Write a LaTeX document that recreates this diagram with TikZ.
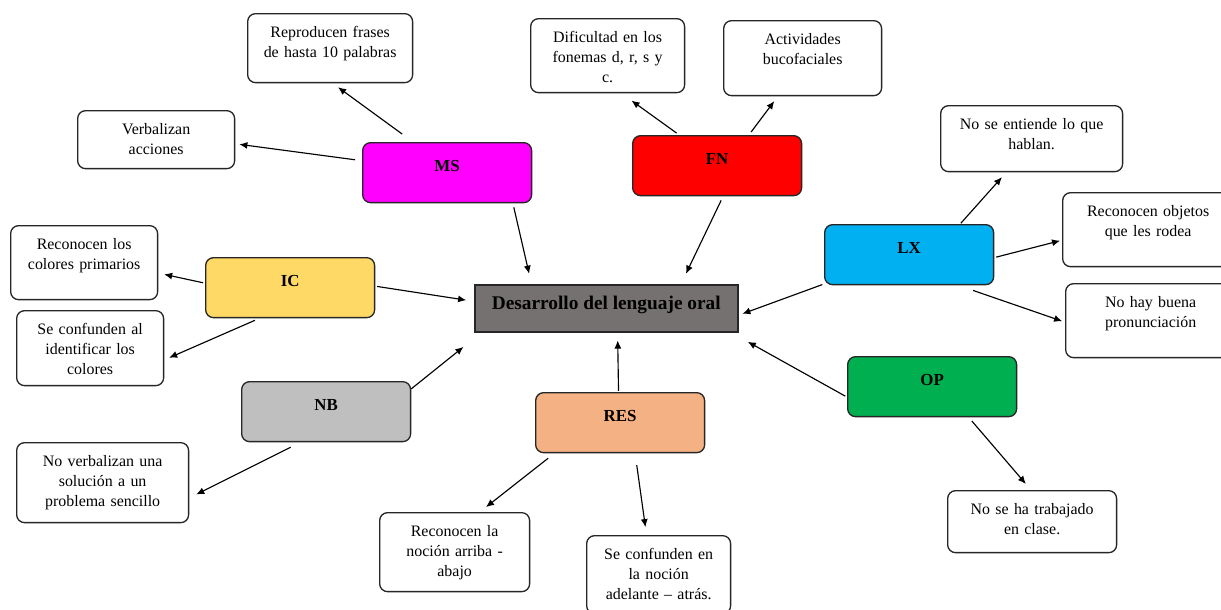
\documentclass[tikz,border=0pt]{standalone}
\usepackage{fontspec}
\setmainfont{Liberation Serif}
\usetikzlibrary{arrows.meta}

\definecolor{msmag}{RGB}{255,0,255}
\definecolor{fnred}{RGB}{255,0,0}
\definecolor{lxblue}{RGB}{0,176,240}
\definecolor{icyel}{RGB}{255,217,102}
\definecolor{nbgray}{RGB}{191,191,191}
\definecolor{opgreen}{RGB}{0,176,80}
\definecolor{resorange}{RGB}{244,177,131}
\definecolor{maingray}{RGB}{118,113,113}

\tikzset{
  concept/.style={draw=black!85, line width=0.75pt, rounded corners=4.5pt, inner sep=0pt,
    minimum width=3.38cm, text height=0.58cm, text depth=0.62cm, anchor=north west,
    font=\bfseries\fontsize{9.6}{11}\selectfont},
  idea/.style={draw=black!85, line width=0.75pt, rounded corners=4.5pt, inner sep=0pt,
    align=center, text height=0.48cm, text depth=#1, anchor=north west,
    font=\fontsize{9.07}{11.34}\selectfont},
  arr/.style={-{Latex[length=4.6pt,width=4pt]}, line width=0.65pt}
}

\begin{document}
\begin{tikzpicture}[x=0.02cm, y=-0.02cm]
  \useasboundingbox (0,0) rectangle (1221,609);

  % centre
  \node [draw=black!85, line width=0.9pt, fill=maingray, inner sep=0pt, anchor=north west,
         minimum width=5.26cm, text height=0.49cm, text depth=0.45cm,
         font=\bfseries\fontsize{11}{13}\selectfont] (desarrollo) at (474,284) {Desarrollo del lenguaje oral};

  % dimensions
  \node [concept, fill=msmag] (ms) at (362,142) {MS};
  \node [concept, fill=fnred] (fn) at (632,135) {FN};
  \node [concept, fill=lxblue] (lx) at (824,224) {LX};
  \node [concept, fill=icyel] (ic) at (205,257) {IC};
  \node [concept, fill=nbgray] (nb) at (241,381) {NB};
  \node [concept, fill=opgreen] (op) at (847,356) {OP};
  \node [concept, fill=resorange] (res) at (535,392) {RES};

  % observations
  \node [idea=0.90cm, text width=3.30cm] (repro) at (247,13) {Reproducen frases\\de hasta 10 palabras};
  \node [idea=1.00cm, text width=3.08cm] (dific) at (530,18) {Dificultad en los\\fonemas d, r, s y\\c.};
  \node [idea=1.02cm, text width=3.16cm] (activ) at (723,20) {Actividades\\bucofaciales};
  \node [idea=0.68cm, text width=3.14cm] (verb) at (77,110) {Verbalizan\\acciones};
  \node [idea=0.84cm, text width=3.64cm] (entiende) at (940,105) {No se entiende lo que\\hablan.};
  \node [idea=1.00cm, text width=3.42cm] (objetos) at (1062,192) {Reconocen objetos\\que les rodea};
  \node [idea=1.00cm, text width=3.40cm] (buena) at (1065,283) {No hay buena\\pronunciación};
  \node [idea=1.00cm, text width=2.94cm] (colores) at (10,225) {Reconocen los\\colores primarios};
  \node [idea=1.02cm, text width=2.94cm] (confal) at (16,310) {Se confunden al\\identificar los\\colores};
  \node [idea=1.12cm, text width=3.44cm] (noverb) at (16,442) {No verbalizan una\\solución a un\\problema sencillo};
  \node [idea=1.10cm, text width=3.00cm] (arriba) at (379,512) {Reconocen la\\noción arriba -\\abajo};
  \node [idea=1.08cm, text width=2.88cm] (atras) at (586,535) {Se confunden en\\la noción\\adelante – atrás.};
  \node [idea=0.76cm, text width=3.38cm] (trabajado) at (947,490) {No se ha trabajado\\en clase.};

  % arrows
  \draw [arr, shorten <=7.7pt, shorten >=3.8pt] (ms.138) -- (repro.274);
  \draw [arr, shorten <=4pt, shorten >=2.3pt] (ms.172) -- (verb.357);
  \draw [arr, shorten <=2.3pt, shorten >=6pt] (ms.335) -- (desarrollo.162);
  \draw [arr, shorten <=1.9pt, shorten >=7.1pt] (fn.141) -- (dific.290);
  \draw [arr, shorten <=2.1pt, shorten >=3.4pt] (fn.44) -- (activ.237);
  \draw [arr, shorten <=2.6pt, shorten >=6.5pt] (fn.281) -- (desarrollo.18);
  \draw [arr, shorten <=0.6pt, shorten >=3.7pt] (lx.31) -- (entiende.233);
  \draw [arr, shorten <=1.1pt, shorten >=1.1pt] (lx.358) -- (objetos.187);
  \draw [arr, shorten <=9pt, shorten >=1.7pt] (lx.328) -- (buena.181);
  \draw [arr, shorten <=1pt, shorten >=2.3pt] (lx.199) -- (desarrollo.357);
  \draw [arr, shorten <=1.1pt, shorten >=3.4pt] (ic.177) -- (colores.352);
  \draw [arr, shorten <=1.1pt, shorten >=4.5pt] (ic.1) -- (desarrollo.177);
  \draw [arr, shorten <=2.8pt, shorten >=3pt] (ic.225) -- (confal.351);
  \draw [arr, shorten >=13pt] (nb.15) -- (desarrollo.191);
  \draw [arr, shorten <=6.2pt, shorten >=4.4pt] (nb.230) -- (noverb.350);
  \draw [arr, shorten <=0.6pt, shorten >=4.5pt] (res.93) -- (desarrollo.295);
  \draw [arr, shorten <=4.5pt, shorten >=4.5pt] (res.205) -- (arriba.58);
  \draw [arr, shorten <=6.8pt, shorten >=4.5pt] (res.296) -- (atras.107);
  \draw [arr, shorten <=1.1pt, shorten >=10.8pt] (op.187) -- (desarrollo.349);
  \draw [arr, shorten <=2.8pt, shorten >=4.5pt] (op.320) -- (trabajado.92);
\end{tikzpicture}
\end{document}
